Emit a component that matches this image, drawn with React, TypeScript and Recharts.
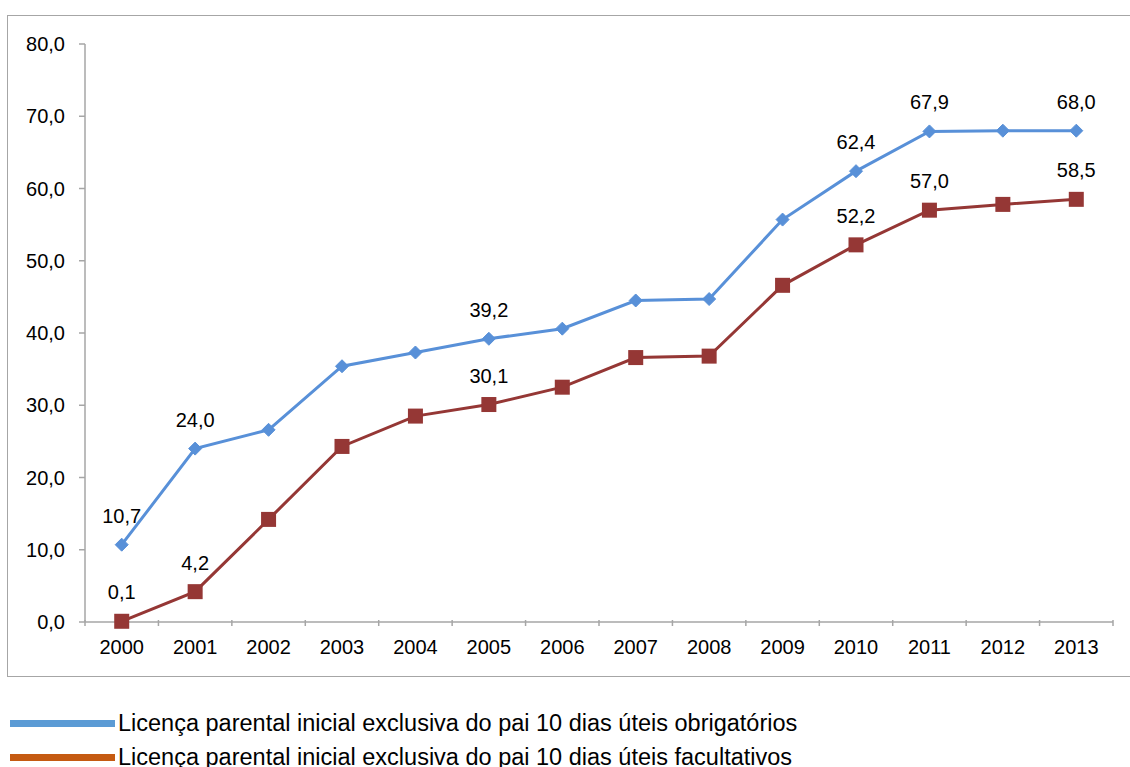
import React from "react";
import { LineChart, Line, XAxis, YAxis, LabelList } from "recharts";

const years = ["2000","2001","2002","2003","2004","2005","2006","2007","2008","2009","2010","2011","2012","2013"];
const obrigatorios = [10.7, 24.0, 26.6, 35.4, 37.3, 39.2, 40.6, 44.5, 44.7, 55.7, 62.4, 67.9, 68.0, 68.0];
const facultativos = [0.1, 4.2, 14.2, 24.3, 28.5, 30.1, 32.5, 36.6, 36.8, 46.6, 52.2, 57.0, 57.8, 58.5];
const labeledIdx = [0, 1, 5, 10, 11, 13];
const yTicks = [0, 10, 20, 30, 40, 50, 60, 70, 80];
const labelTicks = [0, 1, 2, 3, 4, 5, 6, 7, 8, 9, 10, 11, 12, 13];
const seriesNames = [
  "Licença parental inicial exclusiva do pai 10 dias úteis obrigatórios",
  "Licença parental inicial exclusiva do pai 10 dias úteis facultativos",
];

const data = years.map((y, i) => ({ x: i, year: y, a: obrigatorios[i], b: facultativos[i] }));

const fmt = (v: number) => v.toFixed(1).replace(".", ",");
const FONT = "'Liberation Sans', Arial, sans-serif";
const BLUE = "#5890d8";
const RED = "#953735";
const AXIS = "#a6a6a6";

const CHART_W = 1130;
const M_LEFT = 25;
const Y_W = 60;
const M_RIGHT = 17;
const PLOT_W = CHART_W - M_LEFT - Y_W - M_RIGHT;
const BAND = PLOT_W / years.length;

const Diamond = (props: any) => {
  const { cx, cy } = props;
  if (cx == null || cy == null) return null;
  const r = 6.5;
  return <polygon points={`${cx},${cy - r} ${cx + r},${cy} ${cx},${cy + r} ${cx - r},${cy}`} fill={BLUE} stroke={BLUE} />;
};
const Square = (props: any) => {
  const { cx, cy } = props;
  if (cx == null || cy == null) return null;
  const h = 7.5;
  return <rect x={cx - h} y={cy - h} width={2 * h} height={2 * h} fill={RED} />;
};

const makeLabel = () => (props: any) => {
  const { x, y, value, index } = props;
  if (!labeledIdx.includes(index)) return null;
  return (
    <text x={x} y={y - 29} textAnchor="middle" dominantBaseline="central" fontSize={20} fontFamily={FONT} fill="#000">
      {fmt(value)}
    </text>
  );
};

const YearTick = (props: any) => {
  const { x, y, payload, index } = props;
  const axisY = y - 2;
  const half = BAND / 2;
  return (
    <g>
      <line x1={x - half} y1={axisY} x2={x - half} y2={axisY + 6} stroke={AXIS} strokeWidth={1.5} />
      {index === years.length - 1 && (
        <line x1={x + half} y1={axisY} x2={x + half} y2={axisY + 6} stroke={AXIS} strokeWidth={1.5} />
      )}
      <text x={x} y={axisY + 27} textAnchor="middle" dominantBaseline="central" fontSize={20} fontFamily={FONT} fill="#000">
        {years[payload.value]}
      </text>
    </g>
  );
};

export default function App() {
  return (
    <div style={{ position: "absolute", left: 0, top: 0, width: 1130, height: 767, background: "#fff", overflow: "hidden" }}>
      <div style={{ position: "absolute", left: 7, top: 15, width: 1140, height: 662, border: `1.5px solid ${AXIS}`, boxSizing: "border-box" }} />
      <div style={{ position: "absolute", left: 0, top: 0 }}>
        <LineChart width={CHART_W} height={690} data={data} margin={{ top: 44, left: M_LEFT, right: M_RIGHT, bottom: 38 }}>
          <YAxis
            type="number"
            domain={[0, 80]}
            ticks={yTicks}
            tickFormatter={fmt}
            width={Y_W}
            stroke={AXIS}
            strokeWidth={1.5}
            tickSize={6}
            tickMargin={14}
            tick={{ fill: "#000", fontSize: 20, fontFamily: FONT }}
            interval={0}
          />
          <XAxis
            dataKey="x"
            type="number"
            domain={[-0.5, 13.5]}
            ticks={labelTicks}
            stroke={AXIS}
            strokeWidth={1.5}
            tickLine={false}
            tick={<YearTick />}
            tickMargin={0}
            tickSize={0}
            height={30}
            interval={0}
          />
          <Line dataKey="a" stroke={BLUE} strokeWidth={3} dot={<Diamond />} activeDot={false} isAnimationActive={false}>
            <LabelList dataKey="a" content={makeLabel()} />
          </Line>
          <Line dataKey="b" stroke={RED} strokeWidth={3} dot={<Square />} activeDot={false} isAnimationActive={false}>
            <LabelList dataKey="b" content={makeLabel()} />
          </Line>
        </LineChart>
      </div>
      <div style={{ position: "absolute", left: 10, top: 706, fontFamily: FONT, fontSize: 23.5, color: "#000" }}>
        <div style={{ display: "flex", alignItems: "center", height: 34, whiteSpace: "nowrap" }}>
          <div style={{ width: 105, height: 7, background: "#5b9bd5", marginRight: 3, flexShrink: 0 }} />
          <span>{seriesNames[0]}</span>
        </div>
        <div style={{ display: "flex", alignItems: "center", height: 34, whiteSpace: "nowrap" }}>
          <div style={{ width: 105, height: 7, background: "#c55a11", marginRight: 3, flexShrink: 0 }} />
          <span>{seriesNames[1]}</span>
        </div>
      </div>
    </div>
  );
}
